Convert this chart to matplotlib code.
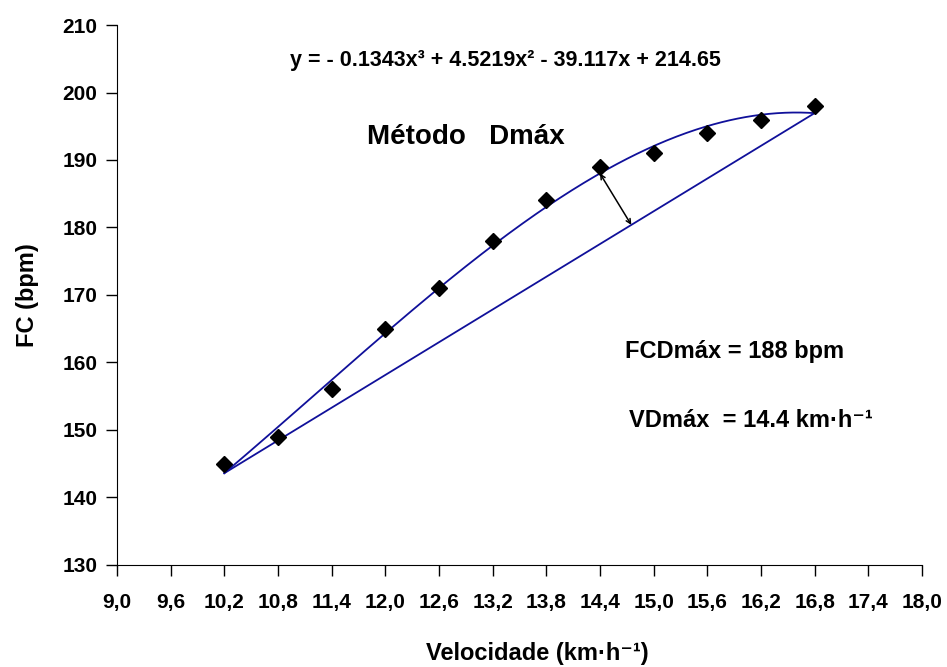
import numpy as np
import matplotlib
matplotlib.use("Agg")
import matplotlib.pyplot as plt

plt.rcParams['font.family'] = ['Liberation Sans', 'DejaVu Sans']
plt.rcParams['font.weight'] = 'bold'

# dados
velocidade = [10.2, 10.8, 11.4, 12.0, 12.6, 13.2, 13.8, 14.4, 15.0, 15.6, 16.2, 16.8]
fc = [145, 149, 156, 165, 171, 178, 184, 189, 191, 194, 196, 198]
coef = [-0.1343, 4.5219, -39.117, 214.65]   # polinomio do grafico
v_dmax = 14.4
fc_dmax = 188

xticks = [9.0, 9.6, 10.2, 10.8, 11.4, 12.0, 12.6, 13.2, 13.8, 14.4, 15.0, 15.6, 16.2, 16.8, 17.4, 18.0]
yticks = [130, 140, 150, 160, 170, 180, 190, 200, 210]

cor = '#10109A'

fig = plt.figure(figsize=(9.47, 6.67), dpi=100)
ax = fig.add_axes([0.1235, 0.153, 0.850, 0.8095])

xs = np.linspace(velocidade[0], velocidade[-1], 300)
ys = np.polyval(coef, xs)
ax.plot(xs, ys, color=cor, lw=1.3)

# reta entre o primeiro e o ultimo ponto do ajuste
y0 = np.polyval(coef, velocidade[0])
y1 = np.polyval(coef, velocidade[-1])
ax.plot([velocidade[0], velocidade[-1]], [y0, y1], color=cor, lw=1.3)

ax.plot(velocidade, fc, 'D', color='black', ms=8, zorder=5)

ax.set_xlim(9.0, 18.0)
ax.set_ylim(130, 210)
ax.set_xticks(xticks)
ax.set_xticklabels([f"{v:.1f}".replace('.', ',') for v in xticks])
ax.set_yticks(yticks)

# seta perpendicular (distancia maxima) em coordenadas de tela
p = ax.transData.transform((v_dmax, np.polyval(coef, v_dmax)))
a = ax.transData.transform((velocidade[0], y0))
b = ax.transData.transform((velocidade[-1], y1))
d = (b - a) / np.linalg.norm(b - a)
foot = a + np.dot(p - a, d) * d
foot_data = ax.transData.inverted().transform(foot)
top_data = ax.transData.inverted().transform(p)
ax.annotate('', xy=foot_data, xytext=top_data,
            arrowprops=dict(arrowstyle='<->', color='black', lw=1.1,
                            shrinkA=0, shrinkB=0, mutation_scale=8))

for s in ['top', 'right']:
    ax.spines[s].set_visible(False)
ax.tick_params(direction='out', length=8, width=1, labelsize=15, pad=12)
ax.tick_params(axis='y', pad=6)
for lab in ax.get_xticklabels() + ax.get_yticklabels():
    lab.set_fontweight('bold')

ax.set_xlabel('Velocidade (km·h⁻¹)', fontsize=17, fontweight='bold')
ax.xaxis.set_label_coords(0.522, -0.143)
ax.set_ylabel('FC (bpm)', fontsize=17, fontweight='bold', labelpad=17)

ax.text(13.34, 203.9, 'y = - 0.1343x³ + 4.5219x² - 39.117x + 214.65',
        ha='center', va='baseline', fontsize=15.5, fontweight='bold')
ax.text(12.9, 192.4, u'Método   Dmáx', ha='center', va='baseline', fontsize=20, fontweight='bold')
ax.text(15.9, 160.6, f'FCDmáx = {fc_dmax} bpm', ha='center', va='baseline',
        fontsize=17, fontweight='bold')
ax.text(16.09, 150.5, f'VDmáx  = {v_dmax} km·h⁻¹', ha='center', va='baseline',
        fontsize=17, fontweight='bold')

fig.savefig('out.png', dpi=100)
